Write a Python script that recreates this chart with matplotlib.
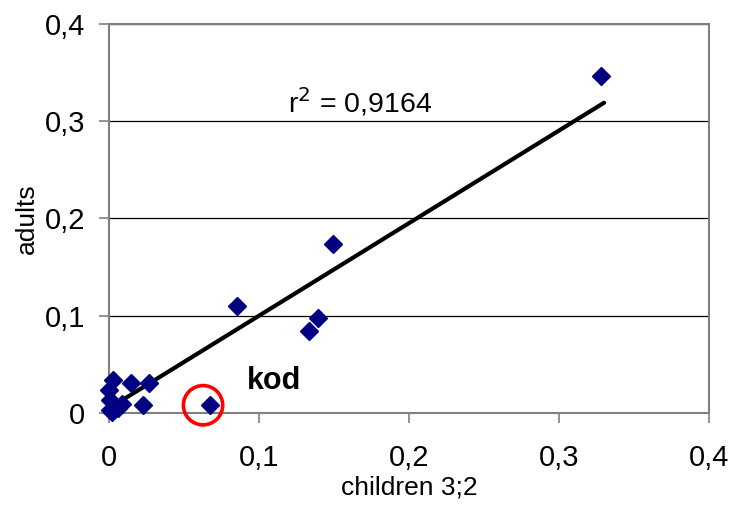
import numpy as np
import matplotlib.pyplot as plt
from matplotlib.ticker import FuncFormatter

plt.rcParams['font.family'] = ['Liberation Sans', 'DejaVu Sans']

# data
children = [0.328, 0.149, 0.085, 0.139, 0.133, 0.067, 0.027, 0.015, 0.023,
            0.003, 0.000, 0.001, 0.001, 0.006, 0.009, 0.002]
adults = [0.347, 0.174, 0.110, 0.098, 0.084, 0.008, 0.031, 0.031, 0.008,
          0.034, 0.024, 0.013, 0.003, 0.005, 0.009, 0.001]

# trend line
trend_x = [0.0007, 0.330]
trend_y = [0.0055, 0.319]

# highlighted point
kod_x, kod_y = 0.0627, 0.008

fig = plt.figure(figsize=(7.33, 5.07), dpi=100)
ax = fig.add_axes([0.1487, 0.1854, 0.8186, 0.7673])

ax.plot(trend_x, trend_y, color='black', lw=3, solid_capstyle='round', zorder=2)
ax.plot(children, adults, 'D', color='#000080', markersize=9.5, zorder=3,
        clip_on=False)
ax.scatter([kod_x], [kod_y], s=800, facecolors='none', edgecolors='#ff0000',
           linewidths=2.6, zorder=4, clip_on=False)

ax.text(0.092, 0.0247, 'kod', fontsize=22, fontweight='bold')
ax.text(0.119, 0.309, r'r$^2$ = 0,9164', fontsize=20.5)

ax.set_xlim(0, 0.4)
ax.set_ylim(0, 0.4)
ax.set_xticks([0, 0.1, 0.2, 0.3, 0.4])
ax.set_yticks([0, 0.1, 0.2, 0.3, 0.4])
fmt = FuncFormatter(lambda v, p: '0' if v == 0 else f'{v:.1f}'.replace('.', ','))
ax.xaxis.set_major_formatter(fmt)
ax.yaxis.set_major_formatter(fmt)
ax.tick_params(labelsize=21, length=7, width=1.2, color='#808080',
               direction='out')
ax.tick_params(axis='x', pad=15)
ax.tick_params(axis='y', pad=10)

ax.yaxis.grid(True, color='black', lw=0.9)
ax.set_axisbelow(True)
for s in ax.spines.values():
    s.set_color('#808080')
    s.set_linewidth(1.5)

ax.set_xlabel('children 3;2', fontsize=19, labelpad=3)
ax.set_ylabel('adults', fontsize=19, labelpad=4)

fig.savefig('out.png', dpi=100)
